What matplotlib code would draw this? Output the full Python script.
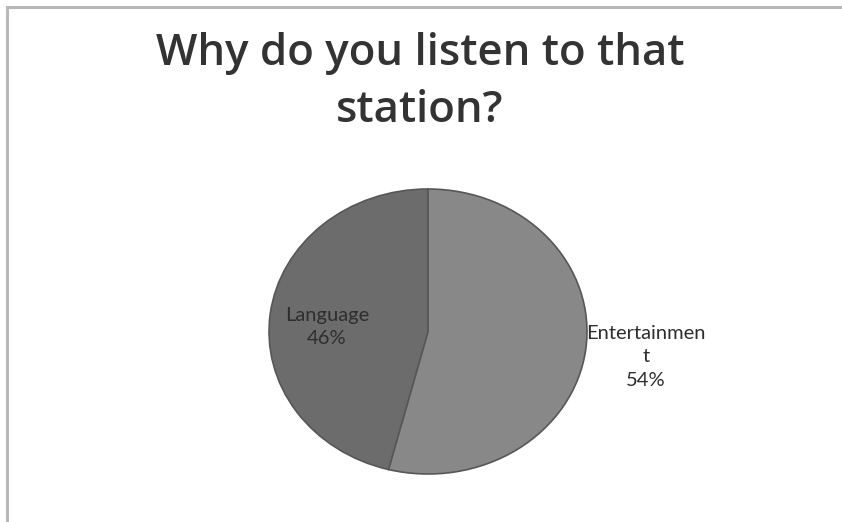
import matplotlib.pyplot as plt
from matplotlib.lines import Line2D

labels = ["Entertainment", "Language"]
shares = [54, 46]
slice_colors = ["#888888", "#6c6c6c"]

W, H = 842, 522
fig = plt.figure(figsize=(W / 100, H / 100), dpi=100)
fig.patch.set_facecolor("white")

# thin grey frame along the top and left edges
fig.add_artist(Line2D([7 / W, 1], [1 - 7 / H, 1 - 7 / H], color="#b8b8b8", lw=2.2))
fig.add_artist(Line2D([7 / W, 7 / W], [0, 1 - 7 / H], color="#b8b8b8", lw=2.2))

# pie is drawn slightly squashed, so the axes box is the ellipse bounding box
left, right, top, bottom = 269, 587, 189, 474
ax = fig.add_axes([left / W, 1 - bottom / H, (right - left) / W, (bottom - top) / H])
wedges, _ = ax.pie(shares, colors=slice_colors, startangle=90, counterclock=False,
                   radius=1, wedgeprops=dict(edgecolor="#575757", linewidth=1.2))
ax.set_xlim(-1, 1)
ax.set_ylim(-1, 1)
ax.set_aspect("auto")
ax.axis("off")

fig.text(420 / W, 1 - 82 / H, "Why do you listen to that\nstation?", ha="center", va="center",
         fontsize=31.5, fontweight="semibold", family="Open Sans", color="#333333",
         linespacing=1.4)

fig.text(327 / W, 1 - 327 / H, f"{labels[1]}\n{shares[1]}%", ha="center", va="center",
         fontsize=14.5, family="Lato", color="#2e2e2e", linespacing=1.4)
fig.text(646 / W, 1 - 357 / H, f"{labels[0][:-1]}\n{labels[0][-1]}\n{shares[0]}%",
         ha="center", va="center", fontsize=14.5, family="Lato", color="#2e2e2e",
         linespacing=1.45)

fig.savefig("out.png", dpi=100, facecolor="white")
